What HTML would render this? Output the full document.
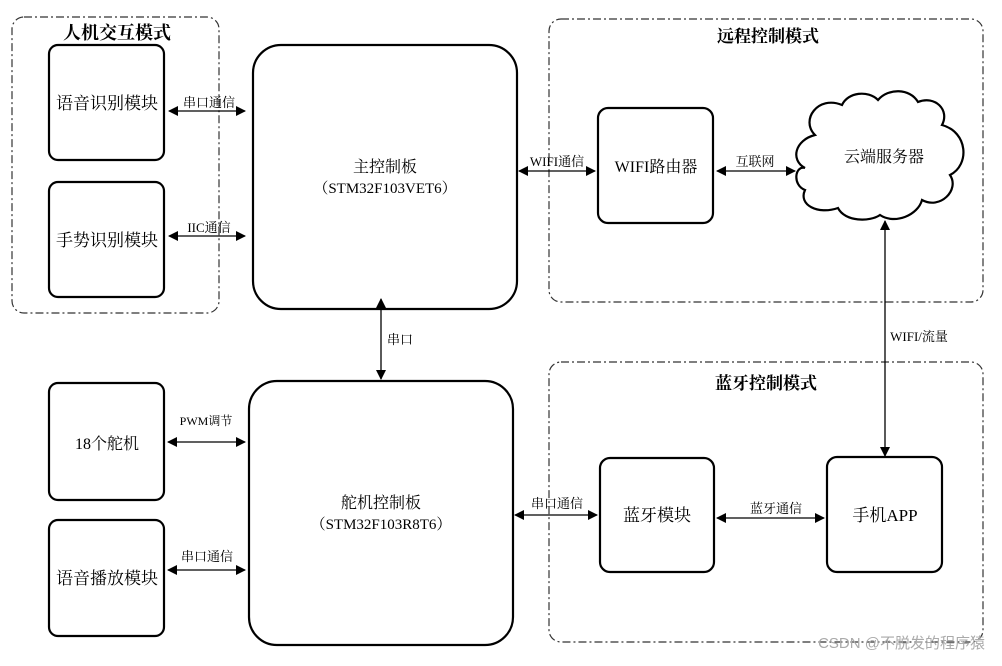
<!DOCTYPE html>
<html><head><meta charset="utf-8"><style>
html,body{margin:0;padding:0;background:#fff;}
svg text{font-family:"Liberation Serif","Noto Serif CJK SC","Noto Sans CJK SC",serif;fill:#000;}
.s{font-family:"Liberation Sans","Noto Sans CJK SC",sans-serif;}
</style></head><body>
<svg width="1002" height="661" viewBox="0 0 1002 661" xmlns="http://www.w3.org/2000/svg">
<defs>
<marker id="a" markerWidth="10" markerHeight="10" refX="9" refY="5" orient="auto-start-reverse" markerUnits="userSpaceOnUse"><path d="M0,0 L10,5 L0,10 z" fill="#000"/></marker>
</defs>
<g fill="none" stroke="#333" stroke-width="1.2" stroke-dasharray="8,3,2,3">
<rect x="12" y="17" width="207" height="296" rx="12"/>
<rect x="549" y="19" width="434" height="283" rx="12"/>
<rect x="549" y="362" width="434" height="280" rx="12"/>
</g>
<g fill="#fff" stroke="#000" stroke-width="2.2">
<rect x="49" y="45" width="115" height="115" rx="9"/>
<rect x="49" y="182" width="115" height="115" rx="9"/>
<rect x="253" y="45" width="264" height="264" rx="28"/>
<rect x="598" y="108" width="115" height="115" rx="10"/>
<rect x="49" y="383" width="115" height="117" rx="9"/>
<rect x="49" y="520" width="115" height="116" rx="9"/>
<rect x="249" y="381" width="264" height="264" rx="28"/>
<rect x="600" y="458" width="114" height="114" rx="10"/>
<rect x="827" y="457" width="115" height="115" rx="10"/>
<path d="M815,135 C800,120 818,95 842,105 C848,92 868,90 878,100 C888,88 910,88 918,102 C935,95 950,110 942,125 C968,132 970,165 950,175 C960,190 940,210 922,200 C918,215 895,225 880,215 C870,222 845,222 838,208 C818,215 798,205 805,190 C792,185 795,165 805,168 C790,160 795,140 815,135 Z"/>
</g>
<g stroke="#000" stroke-width="1.3" fill="none">
<line x1="169" y1="111" x2="245" y2="111" marker-start="url(#a)" marker-end="url(#a)"/>
<line x1="169" y1="236" x2="245" y2="236" marker-start="url(#a)" marker-end="url(#a)"/>
<line x1="519" y1="171" x2="595" y2="171" marker-start="url(#a)" marker-end="url(#a)"/>
<line x1="717" y1="171" x2="795" y2="171" marker-start="url(#a)" marker-end="url(#a)"/>
<line x1="885" y1="221" x2="885" y2="456" marker-start="url(#a)" marker-end="url(#a)"/>
<line x1="381" y1="299" x2="381" y2="379" marker-start="url(#a)" marker-end="url(#a)"/>
<line x1="168" y1="442" x2="245" y2="442" marker-start="url(#a)" marker-end="url(#a)"/>
<line x1="168" y1="570" x2="245" y2="570" marker-start="url(#a)" marker-end="url(#a)"/>
<line x1="515" y1="515" x2="597" y2="515" marker-start="url(#a)" marker-end="url(#a)"/>
<line x1="717" y1="518" x2="824" y2="518" marker-start="url(#a)" marker-end="url(#a)"/>
</g>
<g text-anchor="middle">
<text x="117" y="39" font-size="18" font-weight="bold">人机交互模式</text>
<text x="768" y="42" font-size="17" font-weight="bold">远程控制模式</text>
<text x="766" y="389" font-size="17" font-weight="bold">蓝牙控制模式</text>
<text x="107" y="109" font-size="17">语音识别模块</text>
<text x="107" y="246" font-size="17">手势识别模块</text>
<text x="385" y="172" font-size="16">主控制板</text>
<text x="385" y="193" font-size="15">（STM32F103VET6）</text>
<text x="656" y="172" font-size="16">WIFI路由器</text>
<text x="884" y="162" font-size="16">云端服务器</text>
<text x="107" y="449" font-size="16">18个舵机</text>
<text x="107" y="584" font-size="17">语音播放模块</text>
<text x="381" y="508" font-size="16">舵机控制板</text>
<text x="381" y="529" font-size="15">（STM32F103R8T6）</text>
<text x="657" y="521" font-size="17">蓝牙模块</text>
<text x="885" y="521" font-size="17">手机APP</text>
<g font-size="13">
<text x="209" y="107">串口通信</text>
<text x="209" y="232">IIC通信</text>
<text x="557" y="166">WIFI通信</text>
<text x="755" y="166">互联网</text>
<text x="919" y="341">WIFI/流量</text>
<text x="400" y="344">串口</text>
<text x="206" y="425" font-size="12">PWM调节</text>
<text x="207" y="561">串口通信</text>
<text x="557" y="508">串口通信</text>
<text x="776" y="513">蓝牙通信</text>
</g>
</g>
<text x="985" y="648" font-size="15" text-anchor="end" fill="#999" class="s" style="fill:#aaa">CSDN @不脱发的程序猿</text>
</svg>
</body></html>
